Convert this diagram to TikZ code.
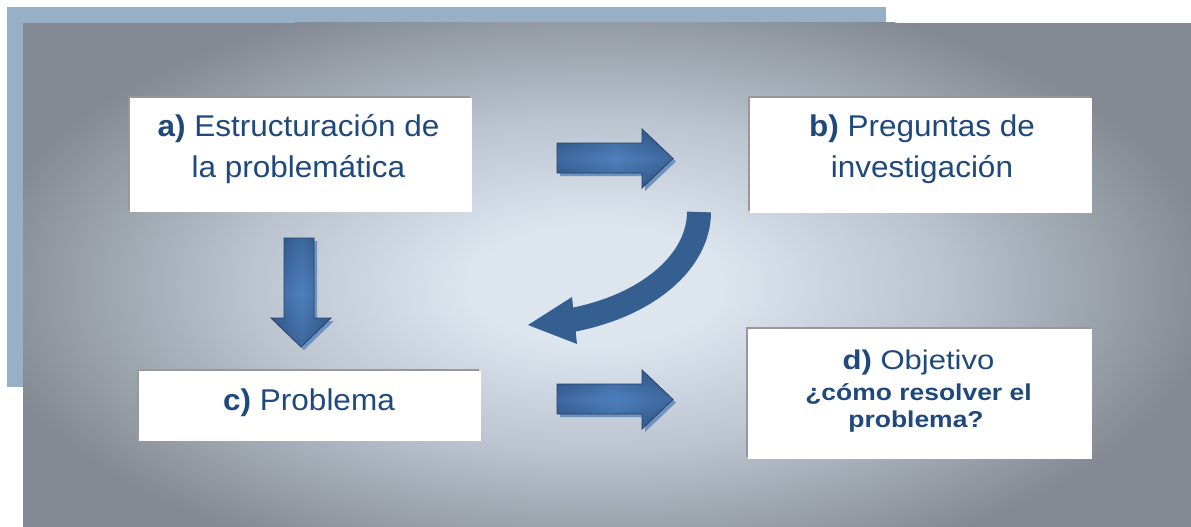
\documentclass[tikz,border=0pt]{standalone}
\usepackage{fontspec}
\setmainfont{Liberation Sans}
\newfontfamily\mainfnt[FakeStretch=1.05]{Liberation Sans}
\newfontfamily\dfnt[FakeStretch=1.15]{Liberation Sans}
\usetikzlibrary{shadows}
\definecolor{txtblue}{RGB}{31,73,125}
\definecolor{frameblue}{RGB}{152,175,200}
\definecolor{panelout}{RGB}{131,138,147}
\definecolor{panelmid}{RGB}{186,195,206}
\definecolor{panelin}{RGB}{221,229,239}
\definecolor{arrdark}{RGB}{44,78,126}
\definecolor{arrlight}{RGB}{78,128,188}
\definecolor{arrshadow}{RGB}{112,146,190}
\definecolor{arredge}{RGB}{38,66,108}
\definecolor{curveblue}{RGB}{54,95,145}
\definecolor{boxshadow}{RGB}{152,152,152}
\pgfdeclareradialshading{panelglow}{\pgfpoint{0bp}{0bp}}{color(0bp)=(panelin); color(5bp)=(panelin); color(14bp)=(panelmid); color(25bp)=(panelout); color(50bp)=(panelout)}
\tikzset{
  box/.style={fill=white, inner sep=0pt, general shadow={fill=boxshadow, shadow xshift=-2.5pt, shadow yshift=2pt}},
  lbl/.style={text=txtblue, align=center, inner sep=0pt, font=\mainfnt\fontsize{30}{41}\selectfont},
  arrshade/.style={top color=arrdark, bottom color=arrdark, middle color=arrlight},
  arrshadeh/.style={left color=arrdark, right color=arrdark, middle color=arrlight, opacity=0.45},
  arrline/.style={draw=arredge, line width=0.8pt, line join=miter},
  arrshd/.style={fill=arrshadow}
}
\begin{document}
\begin{tikzpicture}[x=1pt,y=-1pt]
\useasboundingbox (0,0) rectangle (1191,527);
% background frames
\fill[frameblue] (7,7) rectangle (886,387);
\fill[panelout] (23,23) rectangle (1191,527);
\begin{scope}
  \clip (23,23) rectangle (1191,527);
  \shade[shading=panelglow] (595,285) ellipse [x radius=620, y radius=300];
\end{scope}

% boxes
\node[box, minimum width=342pt, minimum height=114pt] (boxa) at (301,155) {};
\node[box, minimum width=342pt, minimum height=115pt] (boxb) at (921,155) {};
\node[box, minimum width=342pt, minimum height=70pt] (boxc) at (310,406) {};
\node[box, minimum width=344pt, minimum height=130pt] (boxd) at (920,394) {};

% texts
\node[lbl] (ta) at (298.5,149) {\textbf{a)} Estructuración de\\la problemática};
\node[lbl] (tb) at (922,149.5) {\textbf{b)} Preguntas de\\investigación};
\node[lbl, anchor=base] (tc) at (309,410) {\textbf{c)} Problema};
\node[lbl, anchor=base, font=\dfnt\fontsize{27}{31}\selectfont] (td) at (918.5,369) {\textbf{d)} Objetivo};
\node[lbl, anchor=base, font=\dfnt\bfseries\fontsize{23}{28}\selectfont] (td2) at (918.5,400) {¿cómo resolver el};
\node[lbl, anchor=base, font=\dfnt\bfseries\fontsize{23}{28}\selectfont] (td3) at (916,427) {problema?};

% right arrow 1
\fill[arrshd] (560,146) -- (645,146) -- (645,132) -- (676,161.5) -- (645,191) -- (645,176) -- (560,176) -- cycle;
\shade[arrshade] (557,143) -- (642,143) -- (642,129) -- (673,158.5) -- (642,188) -- (642,173) -- (557,173) -- cycle;
\shade[arrshadeh] (557,143) -- (642,143) -- (642,129) -- (673,158.5) -- (642,188) -- (642,173) -- (557,173) -- cycle;
\draw[arrline] (557,143) -- (642,143) -- (642,129) -- (673,158.5) -- (642,188) -- (642,173) -- (557,173) -- cycle;

% right arrow 2
\fill[arrshd] (560,387) -- (645,387) -- (645,373) -- (676,402.5) -- (645,432) -- (645,417) -- (560,417) -- cycle;
\shade[arrshade] (557,384) -- (642,384) -- (642,370) -- (673,399.5) -- (642,429) -- (642,414) -- (557,414) -- cycle;
\shade[arrshadeh] (557,384) -- (642,384) -- (642,370) -- (673,399.5) -- (642,429) -- (642,414) -- (557,414) -- cycle;
\draw[arrline] (557,384) -- (642,384) -- (642,370) -- (673,399.5) -- (642,429) -- (642,414) -- (557,414) -- cycle;

% down arrow
\fill[arrshd] (287,241) -- (317,241) -- (317,321) -- (334,321) -- (304,350) -- (274,321) -- (287,321) -- cycle;
\shade[left color=arrdark, right color=arrdark, middle color=arrlight] (284,238) -- (314,238) -- (314,318) -- (331,318) -- (301,347) -- (271,318) -- (284,318) -- cycle;
\shade[top color=arrdark, bottom color=arrdark, middle color=arrlight, opacity=0.45] (284,238) -- (314,238) -- (314,318) -- (331,318) -- (301,347) -- (271,318) -- (284,318) -- cycle;
\draw[arrline] (284,238) -- (314,238) -- (314,318) -- (331,318) -- (301,347) -- (271,318) -- (284,318) -- cycle;

% curved arrow
\draw[curveblue, line width=24pt] (699,212) .. controls (699,260) and (650,305) .. (572,320);
\fill[curveblue] (572,297) -- (528,325) -- (577,344) -- cycle;
\end{tikzpicture}
\end{document}
